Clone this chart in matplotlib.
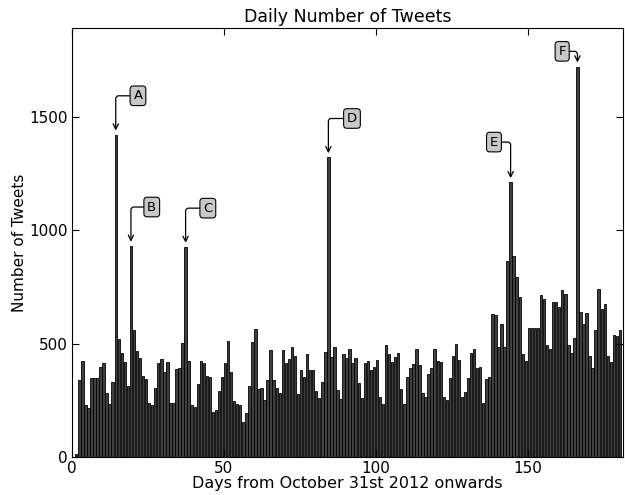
import numpy as np
import matplotlib
matplotlib.use('Agg')
import matplotlib.pyplot as plt

# daily tweet counts, day 1 .. 180 after Oct 31st 2012
days = np.arange(1, 181)
counts = [
    12, 339, 424, 229, 215, 347, 347, 347, 398, 413,
    280, 233, 332, 1420, 518, 457, 420, 314, 930, 559,
    469, 435, 357, 342, 240, 229, 303, 413, 431, 376,
    417, 237, 240, 388, 391, 501, 925, 424, 228, 222,
    322, 424, 413, 357, 351, 200, 207, 292, 354, 415,
    512, 376, 247, 232, 229, 156, 192, 313, 508, 562,
    298, 303, 251, 339, 471, 339, 303, 280, 471, 415,
    431, 486, 445, 276, 383, 354, 452, 383, 383, 291,
    259, 332, 461, 1320, 441, 486, 294, 255, 452, 435,
    474, 413, 435, 325, 261, 413, 424, 383, 398, 427,
    265, 233, 494, 452, 417, 439, 460, 299, 232, 351,
    390, 410, 476, 405, 280, 263, 366, 393, 474, 424,
    419, 265, 253, 346, 445, 498, 427, 266, 285, 347,
    460, 476, 391, 398, 239, 342, 354, 630, 626, 486,
    584, 486, 865, 1210, 885, 791, 706, 453, 425, 567,
    567, 567, 567, 714, 697, 493, 474, 681, 681, 663,
    736, 720, 493, 460, 525, 1720, 640, 587, 633, 445,
    391, 560, 740, 650, 673, 443, 417, 537, 533, 559,
]

# labelled peaks
peak_labels = ['A', 'B', 'C', 'D', 'E', 'F']
peak_days = [14, 19, 37, 84, 144, 166]
label_offsets = [(16, 28), (15, 28), (16, 28), (17, 28), (-12, 29), (-11, 11)]

fig = plt.figure(figsize=(6.25, 4.95), dpi=100)
ax = fig.add_axes([0.1152, 0.0768, 0.8821, 0.8666])

ax.bar(days, counts, width=0.8, align='edge', color='#404040',
       edgecolor='black', linewidth=0.6)

for lab, d, off in zip(peak_labels, peak_days, label_offsets):
    h = counts[d - 1]
    ax.annotate(lab, xy=(d + 0.4, h), xytext=off, textcoords='offset points',
                ha='center', va='center', fontsize=9.5,
                bbox=dict(boxstyle='round,pad=0.25', fc='#c8c8c8', ec='black', lw=0.8),
                arrowprops=dict(arrowstyle='->', color='black', lw=0.9,
                                connectionstyle='angle,angleA=0,angleB=90,rad=3',
                                shrinkA=0, shrinkB=3))

ax.set_xlim(0, 181.5)
ax.set_ylim(0, 1890)
ax.set_xticks([0, 50, 100, 150])
ax.set_yticks([0, 500, 1000, 1500])
ax.tick_params(direction='in', top=True, right=True, length=5, pad=3,
               labelsize=11)
ax.set_title('Daily Number of Tweets', fontsize=12.5, pad=4)
ax.set_xlabel('Days from October 31st 2012 onwards', fontsize=11.5, labelpad=0)
ax.set_ylabel('Number of Tweets', fontsize=11)
ax.yaxis.set_label_coords(-0.082, 0.5)

fig.savefig('out.png', dpi=100)
